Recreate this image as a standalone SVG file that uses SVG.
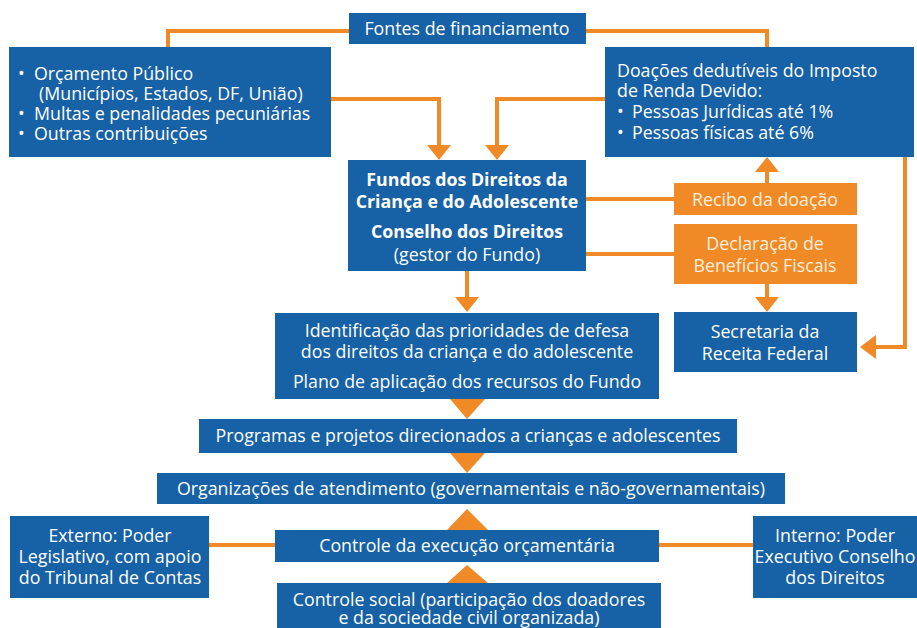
<svg xmlns="http://www.w3.org/2000/svg" width="917" height="628" viewBox="0 0 917 628">
<style>
.b{fill:#1761a6}
.o{fill:#f08a26}
.t{font-family:"Open Sans","Noto Sans","Liberation Sans",sans-serif;font-size:17.8px;fill:#ffffff}
.to{font-family:"Open Sans","Noto Sans","Liberation Sans",sans-serif;font-size:17.8px;fill:#fdeedd}
.c{text-anchor:middle}
.bd{font-weight:bold}
.nb{font-weight:normal}
.ln{fill:none;stroke:#f08a26;stroke-width:4}
.ah{fill:#f08a26}
</style>
<rect width="917" height="628" fill="#ffffff"/>
<g id="connectors">
<path class="ln" d="M349,31 H168 V47"/>
<path class="ln" d="M586,31 H767 V47"/>
<path class="ln" d="M331,99 H439 V147"/>
<polygon class="ah" points="427,145 451,145 439,160"/>
<path class="ln" d="M605,99 H497 V147"/>
<polygon class="ah" points="485,145 509,145 497,160"/>
<path class="ln" d="M586,199 H674"/>
<path class="ln" d="M586,254 H674"/>
<path class="ln" d="M767,183 V170"/>
<polygon class="ah" points="755,172 779,172 767,157"/>
<path class="ln" d="M767,284 V299"/>
<polygon class="ah" points="755,297 779,297 767,312"/>
<path class="ln" d="M905,157 V347 H874"/>
<polygon class="ah" points="876,335 876,359 860,347"/>
<path class="ln" d="M467,271 V299"/>
<polygon class="ah" points="455,297 479,297 467,312"/>
<polygon class="ah" points="450,399 485,399 467,419"/>
<polygon class="ah" points="450,453 485,453 467,473"/>
<polygon class="ah" points="447,530 488,530 467,509"/>
<polygon class="ah" points="447,583 488,583 467,565"/>
<path class="ln" d="M209,545 H275"/>
<path class="ln" d="M659,545 H753"/>
</g>
<g id="fontes">
<rect class="b" x="349" y="13" width="237" height="31"/>
<text class="t c" x="467" y="35">Fontes de financiamento</text>
</g>
<g id="orcamento">
<rect class="b" x="9" y="47" width="322" height="110"/>
<text class="t"><tspan x="18" y="80">•</tspan><tspan x="34" y="80">Orçamento Público</tspan><tspan x="39" y="100">(Municípios, Estados, DF, União)</tspan><tspan x="18" y="120">•</tspan><tspan x="34" y="120">Multas e penalidades pecuniárias</tspan><tspan x="18" y="140">•</tspan><tspan x="34" y="140">Outras contribuições</tspan></text>
</g>
<g id="doacoes">
<rect class="b" x="605" y="47" width="309" height="110"/>
<text class="t"><tspan x="617" y="77">Doações dedutíveis do Imposto</tspan><tspan x="617" y="97">de Renda Devido:</tspan><tspan x="617" y="118">•</tspan><tspan x="632" y="118">Pessoas Jurídicas até 1%</tspan><tspan x="617" y="139">•</tspan><tspan x="632" y="139">Pessoas físicas até 6%</tspan></text>
</g>
<g id="fundos">
<rect class="b" x="348" y="160" width="238" height="111"/>
<text class="t c bd"><tspan x="467" y="186">Fundos dos Direitos da</tspan><tspan x="467" y="208">Criança e do Adolescente</tspan><tspan x="467" y="238">Conselho dos Direitos</tspan><tspan class="nb" x="467" y="261">(gestor do Fundo)</tspan></text>
</g>
<g id="recibo">
<rect class="o" x="674" y="183" width="183" height="32"/>
<text class="to c" x="765" y="206">Recibo da doação</text>
</g>
<g id="declaracao">
<rect class="o" x="674" y="224" width="183" height="60"/>
<text class="to c"><tspan x="765" y="250">Declaração de</tspan><tspan x="765" y="272">Benefícios Fiscais</tspan></text>
</g>
<g id="secretaria">
<rect class="b" x="674" y="312" width="183" height="60"/>
<text class="t c"><tspan x="765" y="338">Secretaria da</tspan><tspan x="765" y="360">Receita Federal</tspan></text>
</g>
<g id="identificacao">
<rect class="b" x="275" y="313" width="384" height="86"/>
<text class="t c"><tspan x="467" y="337">Identificação das prioridades de defesa</tspan><tspan x="467" y="358">dos direitos da criança e do adolescente</tspan><tspan x="467" y="388">Plano de aplicação dos recursos do Fundo</tspan></text>
</g>
<g id="programas">
<rect class="b" x="199" y="419" width="538" height="34"/>
<text class="t c" x="468" y="442">Programas e projetos direcionados a crianças e adolescentes</text>
</g>
<g id="organizacoes">
<rect class="b" x="157" y="473" width="628" height="31"/>
<text class="t c" x="471" y="495">Organizações de atendimento (governamentais e não-governamentais)</text>
</g>
<g id="controle-execucao">
<rect class="b" x="275" y="530" width="384" height="32"/>
<text class="t c" x="467" y="552">Controle da execução orçamentária</text>
</g>
<g id="controle-social">
<rect class="b" x="277" y="583" width="384" height="50"/>
<text class="t c"><tspan x="469" y="606">Controle social (participação dos doadores</tspan><tspan x="469" y="624">e da sociedade civil organizada)</tspan></text>
</g>
<g id="externo">
<rect class="b" x="10" y="516" width="199" height="82"/>
<text class="t c"><tspan x="110" y="542">Externo: Poder</tspan><tspan x="110" y="563">Legislativo, com apoio</tspan><tspan x="110" y="584">do Tribunal de Contas</tspan></text>
</g>
<g id="interno">
<rect class="b" x="753" y="516" width="170" height="82"/>
<text class="t c"><tspan x="835" y="542">Interno: Poder</tspan><tspan x="835" y="563">Executivo Conselho</tspan><tspan x="835" y="584">dos Direitos</tspan></text>
</g>
</svg>
